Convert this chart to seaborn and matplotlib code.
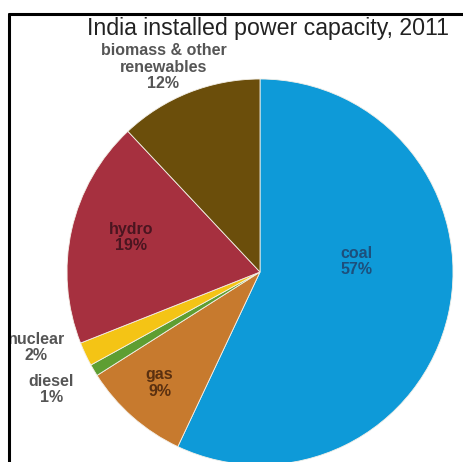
import matplotlib
matplotlib.use("Agg")
import matplotlib.pyplot as plt
from matplotlib.lines import Line2D
import seaborn as sns

# ---- data ----
categories = ["coal", "gas", "diesel", "nuclear", "hydro", "biomass & other\nrenewables"]
shares = [57, 9, 1, 2, 19, 12]
pct_labels = ["57%", "9%", "1%", "2%", "19%", "12%"]
title = "India installed power capacity, 2011"

# ---- styling ----
colors = ["#0E9AD8", "#C77A2E", "#5E9E32", "#F4C415", "#A6303F", "#6B4E0B"]
text_colors = ["#1D4F7C", "#5A3010", "#555555", "#555555", "#4A1520", "#555555"]
label_pos = [(0.50, 0.055), (-0.52, -0.575), (-1.08, -0.61), (-1.16, -0.39),
             (-0.67, 0.18), (-0.50, 1.06)]

sns.set_theme(style="white")
plt.rcParams["font.family"] = ["Liberation Sans", "DejaVu Sans"]

W, H = 464, 462
fig = plt.figure(figsize=(W / 100, H / 100), dpi=100)
fig.patch.set_facecolor("white")

cx, cy, r = 260, 272, 193
ax = fig.add_axes([(cx - r) / W, (H - cy - r) / H, 2 * r / W, 2 * r / H])
ax.pie(shares, colors=colors, startangle=90, counterclock=False,
       wedgeprops=dict(linewidth=0.6, edgecolor="#f4f0e8"), frame=False)
ax.set_xlim(-1, 1)
ax.set_ylim(-1, 1)
ax.set_aspect("equal")
ax.axis("off")

for cat, pct, col, (x, y) in zip(categories, pct_labels, text_colors, label_pos):
    ax.text(x, y, f"{cat}\n{pct}", ha="center", va="center", fontsize=11.5,
            color=col, fontweight="bold", linespacing=1.12, clip_on=False)

fig.text(268 / W, (H - 35) / H, title, ha="center", va="baseline",
         fontsize=16.7, color="#222222")

# partial frame (top and left edges)
lw = 2.2
fig.add_artist(Line2D([9 / W, 1.0], [(H - 14) / H, (H - 14) / H], color="black",
                      linewidth=lw, transform=fig.transFigure))
fig.add_artist(Line2D([9 / W, 9 / W], [0, (H - 14) / H], color="black",
                      linewidth=lw, transform=fig.transFigure))

fig.savefig("out.png", dpi=100)
